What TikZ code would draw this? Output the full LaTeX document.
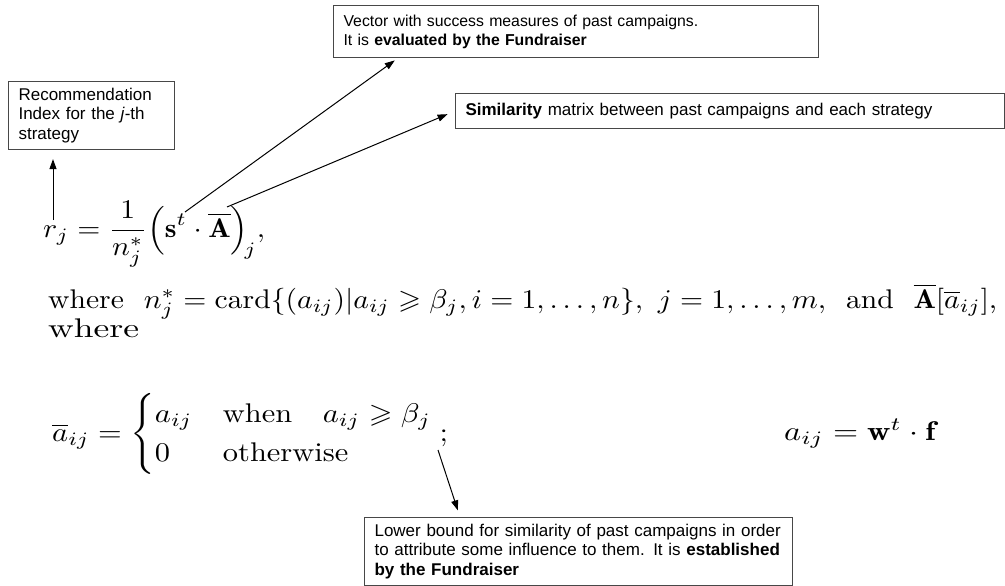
\documentclass[tikz,border=0pt]{standalone}
\usepackage{amsmath,amssymb}
\usepackage{fontspec}
\newfontfamily\sansnote{Liberation Sans}
\usetikzlibrary{arrows.meta}

\begin{document}
\begin{tikzpicture}[x=1pt,y=-1pt,
  note/.style={draw=black!72, line width=1.1pt, anchor=north west, align=left,
    inner xsep=10pt, inner ysep=0pt, font=\sansnote\fontsize{17}{19.8}\selectfont},
  pointer/.style={draw=black, line width=1pt, -{Triangle[length=10pt,width=7pt]}},
  eq/.style={anchor=base west, inner sep=0pt}]
\useasboundingbox (0,0) rectangle (1005,586);

% explanatory boxes
\node[note, text width=146pt, minimum height=68pt] (rec) at (8,81)
  {Recommendation\\Index for the \textit{j}-th\\strategy};
\node[note, text width=465pt, minimum height=52pt,
  font=\sansnote\fontsize{15.8}{19}\selectfont] (vec) at (333,5)
  {Vector with success measures of past campaigns.\\It is \textbf{evaluated by the Fundraiser}};
\node[note, text width=529pt, minimum height=35pt] (sim) at (455,93)
  {\textbf{Similarity} matrix between past campaigns and each strategy};
\node[note, text width=408pt, minimum height=68pt] (low) at (364,517)
  {Lower bound for similarity of past campaigns in order\\to attribute some influence to them. It is \textbf{established}\\\textbf{by the Fundraiser}};

% formulas
\node[eq] (eqr) at (43,237) {\resizebox{222pt}{\height}{\scalebox{2.7}{$\displaystyle r_j=\frac{1}{n_j^*}\Bigl(\mathbf{s}^t\cdot\overline{\mathbf{A}}\Bigr)_{\!j},$}}};
\node[eq] (eqn) at (48,308) {\resizebox{949pt}{\height}{\scalebox{2.7}{where\ \ $n_j^*=\operatorname{card}\{(a_{ij})|a_{ij}\geqslant\beta_j,i=1,\ldots,n\},\ j=1,\ldots,m,$\ \ and\ \ $\overline{\mathbf{A}}[\overline{a}_{ij}]$,}}};
\node[eq] (eqw) at (48,337) {\resizebox{91pt}{\height}{\scalebox{2.7}{where}}};
\node[eq] (eqa) at (52,441) {\resizebox{396pt}{\height}{\scalebox{2.7}{\renewcommand{\arraystretch}{1.08}$\displaystyle\overline{a}_{ij}=\begin{cases}a_{ij}&\text{when}\quad a_{ij}\geqslant\beta_j\\0&\text{otherwise}\end{cases};$}}};
\node[eq] (eqf) at (784,440) {\resizebox{151pt}{\height}{\scalebox{2.7}{$a_{ij}=\mathbf{w}^t\cdot\mathbf{f}$}}};

% pointer ends inside the formulas
\coordinate (rtail) at (53,220);
\coordinate (stail) at (185,212);
\coordinate (atail) at (227,207);
\coordinate (btail) at (438,450);
\coordinate (vecfoot) at ([xshift=65pt]vec.south west);
\coordinate (lowtop) at ([xshift=96pt]low.north west);

% pointers
\draw[pointer, shorten >=9pt] (rtail) -- (rtail |- rec.south);
\draw[pointer, shorten >=4pt] (stail) -- (vecfoot);
\draw[pointer, shorten >=8pt] (atail) -- (sim.west);
\draw[pointer, shorten >=7pt] (btail) -- (lowtop);
\end{tikzpicture}
\end{document}
